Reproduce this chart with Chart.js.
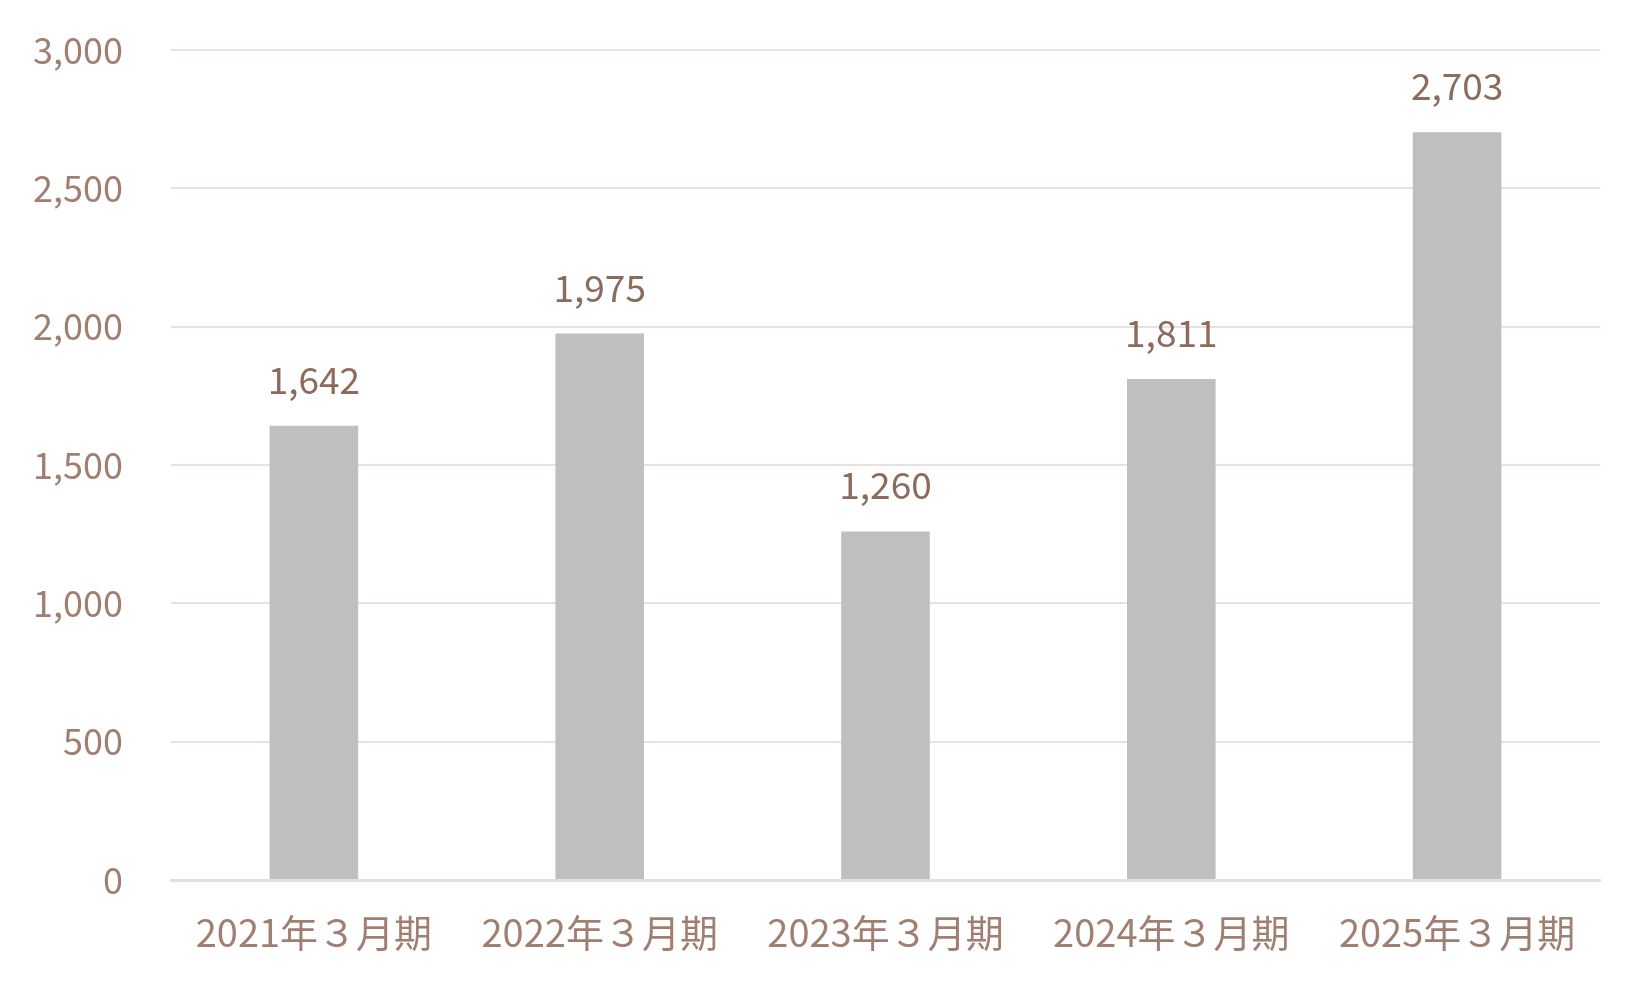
<!DOCTYPE html>
<html>
<head>
<meta charset="utf-8">
<script src="https://cdn.jsdelivr.net/npm/chart.js@4"></script>
<style>
  html, body { margin: 0; padding: 0; background: #fff; }
  #wrap { width: 1650px; height: 990px; }
</style>
</head>
<body>
<div id="wrap"><canvas id="myChart" width="1650" height="990"></canvas></div>
<script>
let labels = ['2021年３月期', '2022年３月期', '2023年３月期', '2024年３月期', '2025年３月期'];
let values = [1642, 1975, 1260, 1811, 2703];
let yTicks = [0, 500, 1000, 1500, 2000, 2500, 3000];

let fontFamily = '"Noto Sans CJK JP", "Noto Sans", sans-serif';

// draws the value above each bar
let barLabels = {
    id: 'barLabels',
    afterDatasetsDraw(chart) {
        let ctx = chart.ctx;
        let meta = chart.getDatasetMeta(0);
        ctx.save();
        ctx.fillStyle = '#8c6b5c';
        ctx.font = '37px ' + fontFamily;
        ctx.textAlign = 'center';
        ctx.textBaseline = 'middle';
        meta.data.forEach((bar, i) => {
            ctx.fillText(values[i].toLocaleString('en-US'), bar.x, bar.y - 46);
        });
        ctx.restore();
    }
};

let ctx = document.getElementById('myChart').getContext('2d');
let myChart = new Chart(ctx, {
    type: 'bar',
    data: {
        labels: labels,
        datasets: [{
            data: values,
            backgroundColor: '#bfbfbf',
            barPercentage: 0.62,
            categoryPercentage: 0.5
        }]
    },
    options: {
        responsive: false,
        animation: false,
        layout: { padding: { top: 50, right: 50, left: 0, bottom: 0 } },
        plugins: {
            legend: { display: false },
            tooltip: { enabled: false }
        },
        scales: {
            x: {
                grid: { display: false },
                border: { color: '#e6dfdf', width: 3 },
                ticks: {
                    color: '#a07f70',
                    font: { family: fontFamily, size: 38 },
                    padding: 22,
                    maxRotation: 0
                },
                afterFit(scale) { scale.height = 110; }
            },
            y: {
                min: 0,
                max: 3000,
                afterBuildTicks(scale) { scale.ticks = yTicks.map(v => ({ value: v })); },
                grid: { color: '#e9e1e1', lineWidth: 2, drawTicks: false },
                border: { display: false },
                ticks: {
                    color: '#a07f70',
                    font: { family: fontFamily, size: 36 },
                    padding: 48,
                    callback: (v) => v.toLocaleString('en-US')
                },
                afterFit(scale) {
                    scale.width = 171;
                    scale.paddingTop = 0;
                    scale.paddingBottom = 0;
                }
            }
        }
    },
    plugins: [barLabels]
});
</script>
</body>
</html>
